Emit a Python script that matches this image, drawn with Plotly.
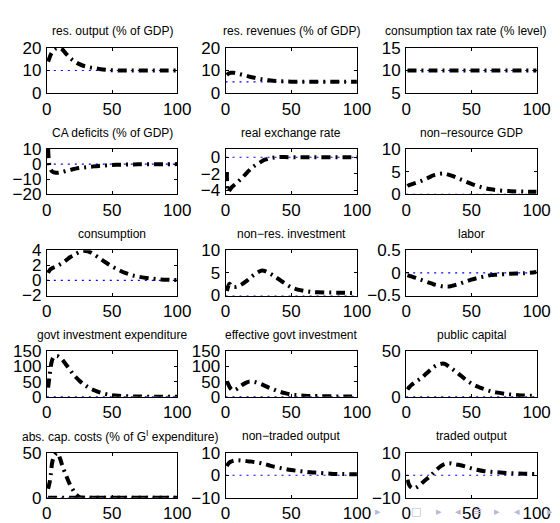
import plotly.graph_objects as go

# ---------------- data ----------------
T = [1, 2, 3, 4, 5, 6, 8, 10, 12, 15, 18, 20, 22, 25, 28, 30, 33, 36, 40, 45, 50, 55, 60, 65, 70, 80, 90, 100]

titles = [
    "res. output (% of GDP)", "res. revenues (% of GDP)", "consumption tax rate (% level)",
    "CA deficits (% of GDP)", "real exchange rate", "non\u2212resource GDP",
    "consumption", "non\u2212res. investment", "labor",
    "govt investment expenditure", "effective govt investment", "public capital",
    "abs. cap. costs (% of G<sup>I</sup> expenditure)", "non\u2212traded output", "traded output",
]

res_output = [14, 15.5, 17, 18, 18.8, 19.4, 19.9, 19.8, 19.2, 17.2, 15.5, 14.5, 13.8, 12.8, 12.1, 11.8, 11.4, 11.1, 10.7, 10.3, 10.1, 10, 10, 10, 10, 10, 10, 10]
res_revenues = [8, 8.5, 8.8, 9, 9, 9, 8.8, 8.5, 8.2, 7.8, 7.3, 7, 6.8, 6.4, 6.1, 6, 5.7, 5.5, 5.3, 5.15, 5.05, 5, 5, 5, 5, 5, 5, 5]
cons_tax = [10] * 28
ca_deficits = [10, -1, -3.5, -4.8, -5.3, -5.6, -5.8, -5.6, -5.2, -4.5, -3.8, -3.4, -3.0, -2.6, -2.3, -2.1, -1.8, -1.5, -1.2, -0.9, -0.6, -0.45, -0.3, -0.2, -0.15, -0.1, -0.05, 0]
real_exch = [-1.8, -4.2, -4.0, -3.8, -3.6, -3.45, -3.2, -2.9, -2.6, -2.1, -1.6, -1.3, -1.05, -0.75, -0.45, -0.3, -0.15, -0.05, 0.02, 0.02, 0.01, 0, 0, 0, 0, 0, 0, 0]
nonres_gdp = [1.8, 2.0, 2.1, 2.2, 2.3, 2.4, 2.6, 2.8, 3.0, 3.4, 3.8, 4.1, 4.3, 4.5, 4.6, 4.55, 4.3, 4.0, 3.5, 2.9, 2.3, 1.8, 1.4, 1.1, 0.9, 0.7, 0.6, 0.55]
consumption = [1.0, 1.3, 1.5, 1.6, 1.7, 1.75, 1.9, 2.1, 2.3, 2.7, 3.1, 3.3, 3.5, 3.75, 3.9, 3.9, 3.75, 3.45, 3.0, 2.4, 1.85, 1.4, 1.0, 0.7, 0.5, 0.25, 0.1, 0.05]
nonres_inv = [1.0, 2.0, 2.6, 2.3, 2.0, 1.9, 1.9, 2.1, 2.4, 3.0, 3.7, 4.2, 4.6, 5.2, 5.5, 5.4, 5.0, 4.5, 3.7, 2.7, 1.8, 1.3, 1.0, 0.8, 0.7, 0.65, 0.6, 0.5]
labor = [-0.05, -0.06, -0.07, -0.08, -0.09, -0.1, -0.12, -0.14, -0.16, -0.19, -0.22, -0.24, -0.26, -0.28, -0.3, -0.3, -0.3, -0.28, -0.25, -0.2, -0.15, -0.11, -0.08, -0.05, -0.04, -0.02, -0.01, 0.02]
govt_inv_exp = [30, 65, 100, 120, 130, 134, 135, 130, 122, 105, 88, 76, 66, 53, 42, 36, 28, 22, 15, 9, 5, 3, 2, 1, 0.5, 0, 0, 0]
eff_govt_inv = [50, 42, 33, 26, 22, 21, 24, 30, 37, 45, 50, 50, 49, 45, 40, 36, 30, 25, 18, 12, 7, 5, 3.5, 2.5, 2, 1.2, 0.8, 0.5]
public_cap = [8, 10, 11.5, 13, 14, 15, 17, 19, 21, 25, 29, 31.5, 33.5, 35.5, 36.5, 36, 33, 30, 25.5, 19.5, 14.5, 11, 8.2, 6, 4.5, 2.3, 1.3, 0.8]
abs_cap_costs = [10, 16, 25, 38, 44, 47, 49.5, 44, 35, 24, 14, 9, 4.5, 1, 0.2, 0, 0, 0, 0, 0, 0, 0, 0, 0, 0, 0, 0, 0]
abs_cap_costs_zero = [0] * 28
nontraded = [4.0, 5.0, 5.6, 6.0, 6.2, 6.4, 6.6, 6.6, 6.5, 6.3, 6.1, 6.0, 5.8, 5.6, 5.2, 4.9, 4.4, 3.9, 3.4, 2.8, 2.3, 1.9, 1.6, 1.3, 1.1, 0.7, 0.5, 0.4]
traded = [-2, -4, -5, -5.5, -5.8, -5.8, -5.3, -4.5, -3.5, -2.0, -0.7, 0.5, 1.7, 3.3, 4.5, 5.0, 5.3, 5.0, 4.6, 3.9, 3.0, 2.3, 1.8, 1.5, 1.3, 0.9, 0.7, 0.5]

series = [res_output, res_revenues, cons_tax, ca_deficits, real_exch, nonres_gdp,
          consumption, nonres_inv, labor, govt_inv_exp, eff_govt_inv, public_cap,
          abs_cap_costs, nontraded, traded]
extra_series = {12: abs_cap_costs_zero}

baseline = [10, 5, 10, 0, 0, 0, 0, 0, 0, 0, 0, 0, 0, 0, 0]

y_ranges = [[0, 20], [0, 20], [5, 15], [-20, 10], [-4.5, 1], [0, 10],
            [-2, 4], [0, 10], [-0.5, 0.5], [0, 150], [0, 150], [0, 50],
            [0, 50], [-10, 10], [-10, 10]]
y_ticks = [[0, 10, 20], [0, 10, 20], [5, 10, 15], [-20, -10, 0, 10], [-4, -2, 0], [0, 5, 10],
           [-2, 0, 2, 4], [0, 5, 10], [-0.5, 0, 0.5], [0, 50, 100, 150], [0, 50, 100, 150], [0, 50],
           [0, 50], [-10, 0, 10], [-10, 0, 10]]
x_ticks = [0, 50, 100]

# beamer navigation symbols (slide chrome at the bottom right)
nav_symbols = ["\u25b8", "\u25a1", "\u25b8", "\u25c2", "\u2261", "\u25b8", "\u25c2", "\u25b8"]

# ---------------- layout ----------------
W, H = 560, 523
col_px = [(35, 170), (220, 356), (407, 542)]
row_top0, row_h, row_step = 32, 47, 105
title_shift_px = {2: -6, 12: 8}
nav_x_px = [378, 417, 441, 461, 481, 501, 522, 556]
FONT = "Liberation Sans, Arial, sans-serif"

fig = go.Figure()
layout = dict(width=W, height=H, margin=dict(l=0, r=0, t=0, b=0),
              paper_bgcolor="white", plot_bgcolor="white", showlegend=False,
              font=dict(family=FONT, color="black"))
annotations = []

for k in range(15):
    r, c = divmod(k, 3)
    xa = "xaxis" if k == 0 else f"xaxis{k+1}"
    ya = "yaxis" if k == 0 else f"yaxis{k+1}"
    xr = "x" if k == 0 else f"x{k+1}"
    yr = "y" if k == 0 else f"y{k+1}"
    x0, x1 = col_px[c]
    top = row_top0 + r * row_step
    bot = top + row_h
    axis_common = dict(showline=True, linecolor="black", linewidth=1, mirror="ticks",
                       ticks="inside", ticklen=3, tickcolor="black", tickwidth=1,
                       showgrid=False, zeroline=False,
                       tickfont=dict(family=FONT, size=17, color="black"))
    layout[xa] = dict(domain=[x0 / W, x1 / W], range=[0, 100], tickvals=x_ticks,
                      anchor=yr, ticklabelstandoff=0, **axis_common)
    layout[ya] = dict(domain=[1 - bot / H, 1 - top / H], range=y_ranges[k], tickvals=y_ticks[k],
                      anchor=xr, ticklabelstandoff=1, **axis_common)
    fig.add_trace(go.Scatter(x=[0, 100], y=[baseline[k], baseline[k]], mode="lines",
                             line=dict(color="#0000ff", width=1.2, dash="2px,5px"),
                             xaxis=xr, yaxis=yr))
    fig.add_trace(go.Scatter(x=T, y=series[k], mode="lines",
                             line=dict(color="black", width=4, dash="9px,5px,2px,5px", shape="spline"),
                             xaxis=xr, yaxis=yr))
    if k in extra_series:
        fig.add_trace(go.Scatter(x=T, y=extra_series[k], mode="lines",
                                 line=dict(color="black", width=4, dash="9px,5px,2px,5px"),
                                 xaxis=xr, yaxis=yr))
    cx = (x0 + x1) / 2 + title_shift_px.get(k, 0)
    annotations.append(dict(text=titles[k], x=cx / W, y=1 - (15 + r * row_step) / H,
                            xref="paper", yref="paper", showarrow=False,
                            xanchor="center", yanchor="middle",
                            font=dict(family=FONT, size=12, color="black")))

for sym, px in zip(nav_symbols, nav_x_px):
    annotations.append(dict(text=sym, x=px / W, y=1 - 513 / H, xref="paper", yref="paper",
                            showarrow=False, xanchor="center", yanchor="middle",
                            font=dict(family="DejaVu Sans", size=11, color="#b8b8d8")))

layout["annotations"] = annotations
fig.update_layout(**layout)
fig.write_html("out.html")
